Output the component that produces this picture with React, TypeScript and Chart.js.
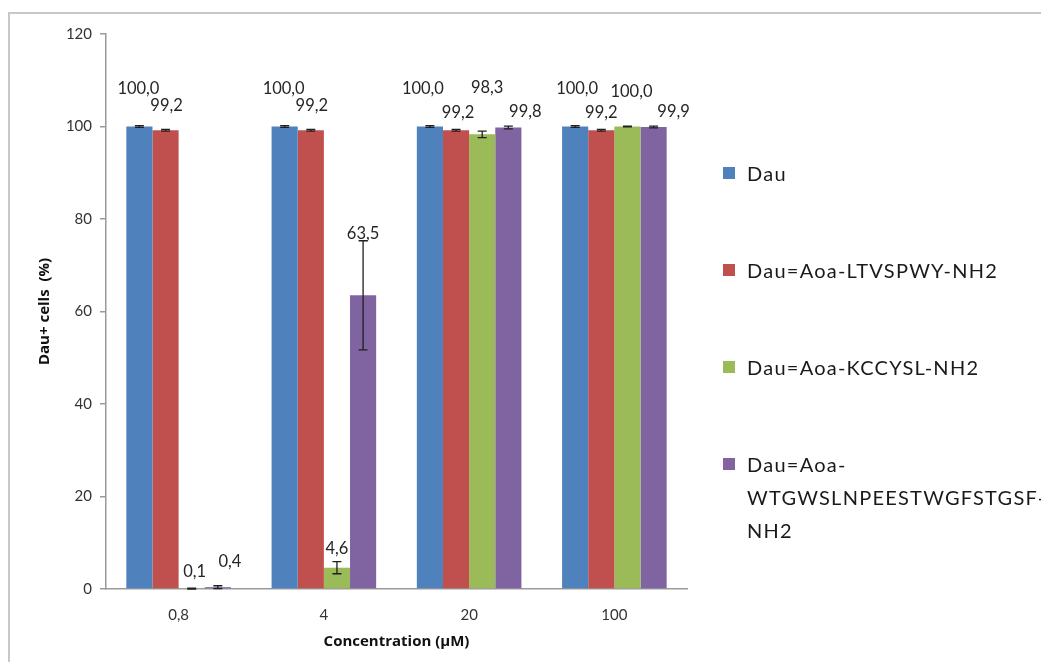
import React, { useEffect, useRef } from "react";
import { Chart, registerables } from "chart.js";

Chart.register(...registerables);

const categories = ["0,8", "4", "20", "100"];
const seriesNames = [
  "Dau",
  "Dau=Aoa-LTVSPWY-NH2",
  "Dau=Aoa-KCCYSL-NH2",
  "Dau=Aoa-WTGWSLNPEESTWGFSTGSF-NH2",
];
const dauValues = [100.0, 100.0, 100.0, 100.0];
const ltvValues = [99.2, 99.2, 99.2, 99.2];
const kccValues = [0.1, 4.6, 98.3, 100.0];
const wtgValues = [0.4, 63.5, 99.8, 99.9];
const dauErrors = [0.2, 0.2, 0.2, 0.2];
const ltvErrors = [0.2, 0.2, 0.2, 0.2];
const kccErrors = [0.1, 1.3, 0.7, 0.1];
const wtgErrors = [0.3, 11.8, 0.3, 0.2];
const yTicks = [0, 20, 40, 60, 80, 100, 120];

const colors = ["#4F81BD", "#C0504D", "#9BBB59", "#8064A2"];
// label placement nudges (style): [dx, lift above error-bar top] in px
const labelNudges = [
  [[-1, 37], [-1, 37], [-7, 37], [2, 37]],
  [[1, 24], [1, 24], [2, 17], [0, 17]],
  [[3, 16], [0, 13], [5, 43], [4, 34]],
  [[12, 24], [0, 7], [17, 14], [20, 14]],
];

const FONT = "Lato, 'Open Sans', sans-serif";
const TITLE_FONT = "'Open Sans', Lato, sans-serif";

const errorLabelPlugin = {
  id: "errorLabels",
  afterDatasetsDraw(chart: any) {
    const ctx = chart.ctx;
    const y = chart.scales.y;
    const errs = [dauErrors, ltvErrors, kccErrors, wtgErrors];
    chart.data.datasets.forEach((ds: any, i: number) => {
      const meta = chart.getDatasetMeta(i);
      meta.data.forEach((el: any, j: number) => {
        const v = ds.data[j];
        const e = errs[i][j];
        const yTop = y.getPixelForValue(v + e);
        const yBot = y.getPixelForValue(Math.max(0, v - e));
        ctx.save();
        ctx.strokeStyle = "#1f1f1f";
        ctx.lineWidth = 1.3;
        ctx.beginPath();
        ctx.moveTo(el.x, yTop);
        ctx.lineTo(el.x, yBot);
        ctx.moveTo(el.x - 4.5, yTop);
        ctx.lineTo(el.x + 4.5, yTop);
        ctx.moveTo(el.x - 4.5, yBot);
        ctx.lineTo(el.x + 4.5, yBot);
        ctx.stroke();
        const [dx, lift] = labelNudges[i][j];
        ctx.fillStyle = "#262626";
        ctx.font = `16.5px ${FONT}`;
        ctx.textAlign = "center";
        ctx.textBaseline = "middle";
        ctx.fillText(v.toFixed(1).replace(".", ","), el.x + dx, yTop - lift);
        ctx.restore();
      });
    });
  },
};

export default function App() {
  const ref = useRef<HTMLCanvasElement | null>(null);
  useEffect(() => {
    if (!ref.current) return;
    const values = [dauValues, ltvValues, kccValues, wtgValues];
    const chart = new Chart(ref.current, {
      type: "bar",
      data: {
        labels: categories,
        datasets: values.map((d, i) => ({
          label: seriesNames[i],
          data: d,
          backgroundColor: colors[i],
          borderWidth: 0,
          categoryPercentage: 0.72,
          barPercentage: 1.0,
        })),
      },
      options: {
        animation: false,
        responsive: false,
        maintainAspectRatio: false,
        layout: { padding: { left: 0, top: 26, right: 354, bottom: 8 } },
        plugins: {
          legend: { display: false },
          tooltip: { enabled: false },
        },
        scales: {
          x: {
            afterFit: (s: any) => {
              s.height = 65;
            },
            grid: { display: false },
            border: { display: true, color: "#9a9a9a", width: 1.5 },
            ticks: { color: "#333", font: { family: FONT, size: 15 }, padding: 9 },
            title: {
              display: true,
              text: "Concentration (µM)",
              color: "#111",
              font: { family: TITLE_FONT, size: 15, weight: "bold" },
              padding: { top: 0, bottom: 3 },
            },
          },
          y: {
            min: 0,
            max: 120,
            afterFit: (s: any) => {
              s.width = 98;
            },
            afterBuildTicks: (s: any) => {
              s.ticks = yTicks.map((v) => ({ value: v }));
            },
            grid: {
              drawOnChartArea: false,
              drawTicks: true,
              tickLength: 6,
              color: "#9a9a9a",
              lineWidth: 1.5,
            },
            border: { display: true, color: "#9a9a9a", width: 1.5 },
            ticks: { color: "#333", font: { family: FONT, size: 15 }, padding: 8 },
            title: {
              display: true,
              text: "Dau+ cells  (%)",
              color: "#111",
              font: { family: TITLE_FONT, size: 15, weight: "bold" },
              padding: { top: 28, bottom: 0 },
            },
          },
        },
      },
      plugins: [errorLabelPlugin],
    });
    return () => chart.destroy();
  }, []);

  return (
    <div style={{ position: "relative", width: 1033, height: 654, overflow: "hidden" }}>
      <div
        style={{
          position: "absolute",
          left: 0,
          top: 4,
          width: 1100,
          height: 700,
          borderLeft: "2px solid #c8c8c8",
          borderTop: "2px solid #c8c8c8",
        }}
      />
      <canvas ref={ref} width={1033} height={654} style={{ position: "absolute", left: 0, top: 0 }} />
      <div
        style={{
          position: "absolute",
          left: 714,
          top: 149,
          width: 315,
          fontFamily: FONT,
          fontSize: 20,
          letterSpacing: 1.25,
          color: "#1a1a1a",
        }}
      >
        {seriesNames.map((name, i) => (
          <div key={name} style={{ position: "relative", paddingLeft: 25, lineHeight: "33px", marginBottom: 64 }}>
            <span
              style={{
                position: "absolute",
                left: 1,
                top: 10,
                width: 12,
                height: 12,
                background: colors[i],
              }}
            />
            {name}
          </div>
        ))}
      </div>
    </div>
  );
}
